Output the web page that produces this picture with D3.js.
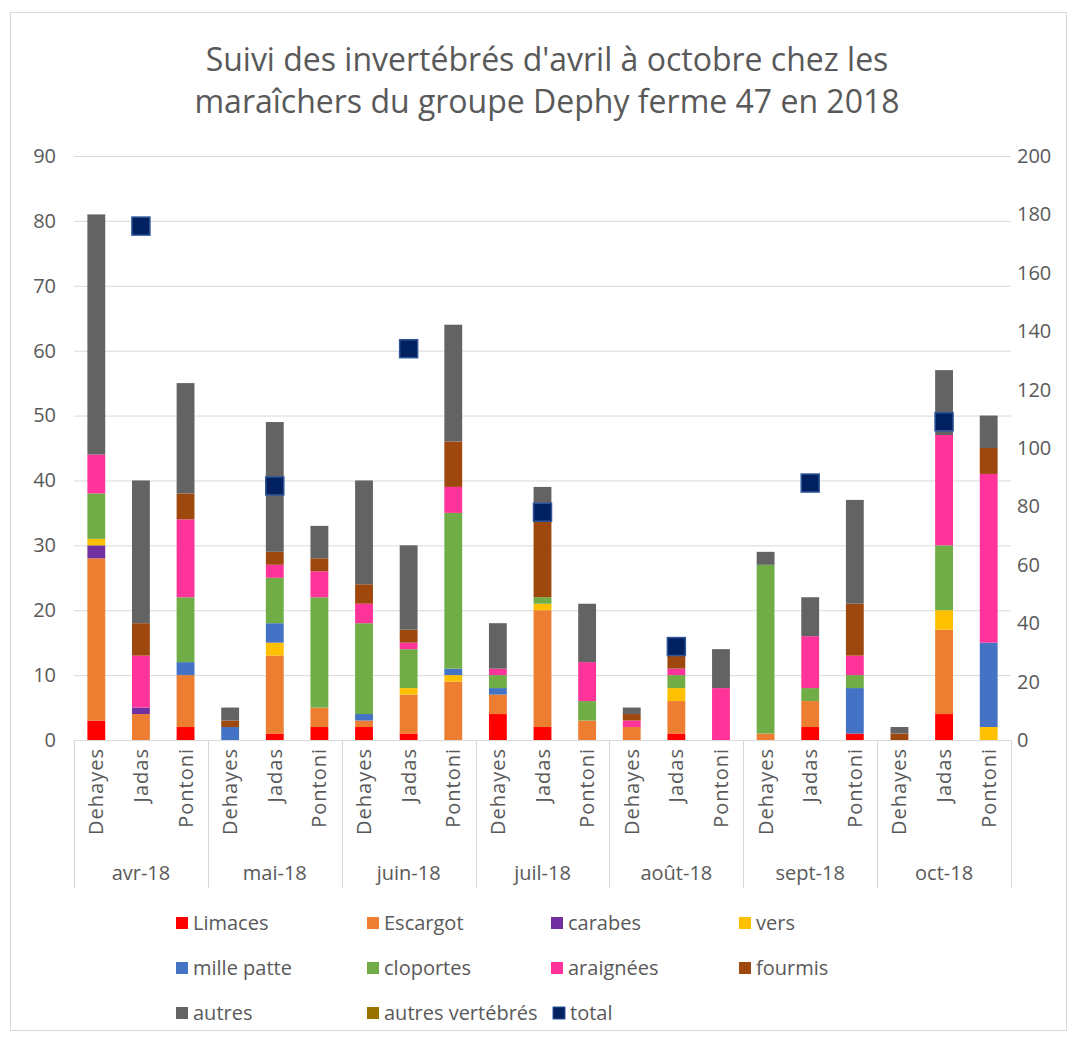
<!DOCTYPE html>
<html>
<head>
<meta charset="utf-8">
<script src="https://cdn.jsdelivr.net/npm/d3@7"></script>
<style>
  body { margin: 0; background: #fff; }
  text { font-family: "Open Sans", "Noto Sans", sans-serif; fill: #595959; }
</style>
</head>
<body>
<div id="chart"></div>
<script>
// data
var months = ["avr-18", "mai-18", "juin-18", "juil-18", "août-18", "sept-18", "oct-18"];
var farms = ["Dehayes", "Jadas", "Pontoni"];
var seriesNames = ["Limaces", "Escargot", "carabes", "vers", "mille patte", "cloportes", "araignées", "fourmis", "autres", "autres vertébrés"];
var seriesColors = ["#ff0000", "#ed7d31", "#7030a0", "#ffc000", "#4472c4", "#70ad47", "#ff3399", "#9e480e", "#636363", "#997300"];

// one value per bar: avr D,J,P, mai D,J,P, ... oct D,J,P
var limaces   = [3,0,2, 0,1,2, 2,1,0, 4,2,0, 0,1,0, 0,2,1, 0,4,0];
var escargot  = [25,4,8, 0,12,3, 1,6,9, 3,18,3, 2,5,0, 1,4,0, 0,13,0];
var carabes   = [2,1,0, 0,0,0, 0,0,0, 0,0,0, 0,0,0, 0,0,0, 0,0,0];
var vers      = [1,0,0, 0,2,0, 0,1,1, 0,1,0, 0,2,0, 0,0,0, 0,3,2];
var millePatte= [0,0,2, 2,3,0, 1,0,1, 1,0,0, 0,0,0, 0,0,7, 0,0,13];
var cloportes = [7,0,10, 0,7,17, 14,6,24, 2,1,3, 0,2,0, 26,2,2, 0,10,0];
var araignees = [6,8,12, 0,2,4, 3,1,4, 1,0,6, 1,1,8, 0,8,3, 0,17,26];
var fourmis   = [0,5,4, 1,2,2, 3,2,7, 0,12,0, 1,2,0, 0,0,8, 1,0,4];
var autres    = [37,22,17, 2,20,5, 16,13,18, 7,5,9, 1,0,6, 2,6,16, 1,10,5];
var autresVert= [0,0,0, 0,0,0, 0,0,0, 0,0,0, 0,0,0, 0,0,0, 0,0,0];
var totals    = [176, 87, 134, 78, 32, 88, 109];

var leftTicks = [0,10,20,30,40,50,60,70,80,90];
var rightTicks = [0,20,40,60,80,100,120,140,160,180,200];

var seriesValues = [limaces, escargot, carabes, vers, millePatte, cloportes, araignees, fourmis, autres, autresVert];

var svgWidth = 1072, svgHeight = 1039;
var plotLeft = 74, plotRight = 1011, plotTop = 156, plotBottom = 740;

var svg = d3.select("#chart").append("svg")
    .attr("width", svgWidth)
    .attr("height", svgHeight);

// chart frame
svg.append("rect")
    .attr("x", 10.5).attr("y", 12.5)
    .attr("width", 1056).attr("height", 1018)
    .attr("fill", "#fff")
    .attr("stroke", "#d9d9d9");

// title
var title = svg.append("text")
    .attr("text-anchor", "middle")
    .attr("font-size", "32px");
title.append("tspan").attr("x", 547).attr("y", 71).text("Suivi des invertébrés d'avril à octobre chez les");
title.append("tspan").attr("x", 547).attr("y", 113).text("maraîchers du groupe Dephy ferme 47 en 2018");

// build rows for stacking
var bars = [];
months.forEach(function(m, mi) {
  farms.forEach(function(f, fi) {
    var i = mi * 3 + fi;
    var row = { key: i, month: m, farm: f };
    seriesNames.forEach(function(s, si) { row[s] = seriesValues[si][i]; });
    bars.push(row);
  });
});

var x = d3.scaleBand()
    .domain(bars.map(function(d) { return d.key; }))
    .range([plotLeft, plotRight])
    .paddingInner(0.6)
    .paddingOuter(0.3);

var y = d3.scaleLinear().domain([0, 90]).range([plotBottom, plotTop]);
var y2 = d3.scaleLinear().domain([0, 200]).range([plotBottom, plotTop]);

// gridlines + left axis
var leftAxis = svg.append("g")
    .attr("transform", "translate(" + plotLeft + ",0)")
    .call(d3.axisLeft(y).tickValues(leftTicks).tickSize(-(plotRight - plotLeft)).tickPadding(18));
leftAxis.select(".domain").remove();
leftAxis.selectAll(".tick line").attr("stroke", "#d9d9d9");
leftAxis.selectAll(".tick text").attr("font-size", "20px").attr("fill", "#595959");

var rightAxis = svg.append("g")
    .attr("transform", "translate(" + plotRight + ",0)")
    .call(d3.axisRight(y2).tickValues(rightTicks).tickSize(0).tickPadding(6));
rightAxis.select(".domain").remove();
rightAxis.selectAll(".tick text").attr("font-size", "20px").attr("fill", "#595959");

// stacked bars
var stack = d3.stack().keys(seriesNames);
var layers = stack(bars);

svg.append("g").selectAll("g")
    .data(layers)
    .enter()
    .append("g")
    .attr("fill", function(d, i) { return seriesColors[i]; })
    .selectAll("rect")
    .data(function(d) { return d; })
    .enter()
    .append("rect")
    .attr("x", function(d) { return x(d.data.key); })
    .attr("y", function(d) { return y(d[1]); })
    .attr("width", x.bandwidth())
    .attr("height", function(d) { return y(d[0]) - y(d[1]); });

// category axis lines
svg.append("line")
    .attr("x1", plotLeft).attr("x2", plotRight)
    .attr("y1", plotBottom + 0.5).attr("y2", plotBottom + 0.5)
    .attr("stroke", "#d9d9d9");

var groupW = (plotRight - plotLeft) / months.length;
d3.range(months.length + 1).forEach(function(i) {
  var gx = Math.round(plotLeft + i * groupW) + 0.5;
  svg.append("line")
      .attr("x1", gx).attr("x2", gx)
      .attr("y1", plotBottom).attr("y2", 888)
      .attr("stroke", "#d9d9d9");
});

// farm labels (rotated)
svg.append("g").selectAll("text")
    .data(bars)
    .enter()
    .append("text")
    .attr("transform", function(d) {
      return "translate(" + (x(d.key) + x.bandwidth() / 2 + 7) + ",748) rotate(-90)";
    })
    .attr("text-anchor", "end")
    .attr("font-size", "20px")
    .attr("letter-spacing", "1px")
    .text(function(d) { return d.farm; });

// month labels
svg.append("g").selectAll("text")
    .data(months)
    .enter()
    .append("text")
    .attr("x", function(d, i) { return plotLeft + (i + 0.5) * groupW; })
    .attr("y", 880)
    .attr("text-anchor", "middle")
    .attr("font-size", "20px")
    .text(function(d) { return d; });

// total markers on secondary axis, at the Jadas bar
svg.append("g").selectAll("rect")
    .data(totals)
    .enter()
    .append("rect")
    .attr("x", function(d, i) { return x(i * 3 + 1) + x.bandwidth() / 2 - 9; })
    .attr("y", function(d) { return y2(d) - 9; })
    .attr("width", 18)
    .attr("height", 18)
    .attr("fill", "#002060")
    .attr("stroke", "#2f5597")
    .attr("stroke-width", 1.5);

// legend
var legendItems = seriesNames.concat(["total"]);
var legendColors = seriesColors.concat(["#002060"]);
var colX = [176, 367, 551, 739];
var rowY = [923, 968, 1013];

var legend = svg.append("g").selectAll("g")
    .data(legendItems)
    .enter()
    .append("g")
    .attr("transform", function(d, i) {
      var lx = colX[i % 4];
      var ly = rowY[Math.floor(i / 4)];
      if (i === 10) lx = 553; // "total" sits right after "autres vertébrés"
      return "translate(" + lx + "," + ly + ")";
    });

legend.append("rect")
    .attr("x", 0).attr("y", -6)
    .attr("width", 12).attr("height", 12)
    .attr("fill", function(d, i) { return legendColors[i]; })
    .attr("stroke", function(d, i) { return i === 10 ? "#2f5597" : "none"; });

legend.append("text")
    .attr("x", 17)
    .attr("y", 7)
    .attr("font-size", "20px")
    .text(function(d) { return d; });
</script>
</body>
</html>
